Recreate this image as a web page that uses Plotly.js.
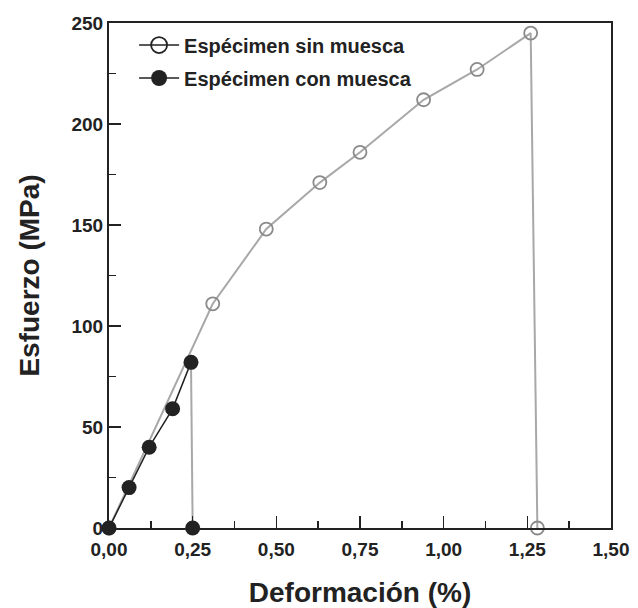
<!DOCTYPE html>
<html>
<head>
<meta charset="utf-8">
<script src="https://cdn.plot.ly/plotly-3.0.1.min.js"></script>
<style>
  html, body { margin: 0; padding: 0; background: #fff; }
  #chart { width: 638px; height: 608px; }
</style>
</head>
<body>
<div id="chart"></div>
<script>
// Tensile curves: strain (%) vs stress (MPa)
const sinMuescaX = [0, 0.31, 0.47, 0.63, 0.75, 0.94, 1.10, 1.26, 1.28];
const sinMuescaY = [0, 111, 148, 171, 186, 212, 227, 245, 0];

const conMuescaX = [0, 0.06, 0.12, 0.19, 0.245, 0.25];
const conMuescaY = [0, 20, 40, 59, 82, 0];

const nombreSin = 'Espécimen sin muesca';
const nombreCon = 'Espécimen con muesca';

const xTicks = [0, 0.25, 0.5, 0.75, 1.0, 1.25, 1.5];
const yTicks = [0, 50, 100, 150, 200, 250];

const gris = '#a8a8a8';
const negro = '#222222';
const fontBold = 'Liberation Sans, Arial, sans-serif';

const n = conMuescaX.length;

const traces = [
  // unnotched specimen
  {
    x: sinMuescaX, y: sinMuescaY, mode: 'lines+markers', showlegend: false,
    line: { color: gris, width: 2 },
    marker: { symbol: 'circle-open', size: 13, color: '#8a8a8a', line: { width: 1.8 } },
    cliponaxis: false
  },
  // notched specimen: final drop after fracture
  {
    x: conMuescaX.slice(n - 2), y: conMuescaY.slice(n - 2), mode: 'lines', showlegend: false,
    line: { color: gris, width: 2 }, cliponaxis: false
  },
  // notched specimen: loading curve
  {
    x: conMuescaX.slice(0, n - 1), y: conMuescaY.slice(0, n - 1), mode: 'lines', showlegend: false,
    line: { color: negro, width: 1.5 }, cliponaxis: false
  },
  {
    x: conMuescaX, y: conMuescaY, mode: 'markers', showlegend: false,
    marker: { symbol: 'circle', size: 15, color: negro },
    cliponaxis: false
  },
  // legend entries
  {
    x: [null], y: [null], name: nombreSin, mode: 'lines+markers', legendgroup: 'sin',
    line: { color: negro, width: 1.5 },
    marker: { symbol: 'circle-open', size: 16, color: negro, line: { width: 1.8 } }
  },
  {
    x: [null], y: [null], name: nombreCon, mode: 'lines+markers', legendgroup: 'con',
    line: { color: negro, width: 1.5 },
    marker: { symbol: 'circle', size: 16, color: negro }
  }
];

const layout = {
  width: 638, height: 608,
  margin: { l: 109, r: 27, t: 23, b: 80 },
  paper_bgcolor: '#fff', plot_bgcolor: '#fff',
  separators: ',.',
  showlegend: true,
  legend: {
    x: 0.05, y: 0.995, xanchor: 'left', yanchor: 'top',
    bgcolor: 'rgba(255,255,255,0)', borderwidth: 0,
    font: { family: fontBold, size: 20, color: negro, weight: 'bold' },
    tracegroupgap: 4, itemwidth: 40
  },
  xaxis: {
    range: [0, 1.5], tickvals: xTicks, tickformat: '.2f',
    ticks: 'inside', ticklen: 12, tickwidth: 1.5, tickcolor: negro,
    minor: { dtick: 0.125, ticks: 'inside', ticklen: 7, tickwidth: 1.5, tickcolor: negro },
    showline: true, linecolor: negro, linewidth: 2, mirror: true,
    showgrid: false, zeroline: false, ticklabelstandoff: 3,
    tickfont: { family: fontBold, size: 19, color: negro, weight: 'bold' },
    title: { text: 'Deformación (%)', standoff: 24,
             font: { family: fontBold, size: 28, color: negro, weight: 'bold' } }
  },
  yaxis: {
    range: [0, 250], tickvals: yTicks,
    ticks: 'inside', ticklen: 12, tickwidth: 1.5, tickcolor: negro,
    minor: { dtick: 25, ticks: 'inside', ticklen: 7, tickwidth: 1.5, tickcolor: negro },
    showline: true, linecolor: negro, linewidth: 2, mirror: true,
    showgrid: false, zeroline: false,
    tickfont: { family: fontBold, size: 19, color: negro, weight: 'bold' },
    title: { text: 'Esfuerzo (MPa)', standoff: 24,
             font: { family: fontBold, size: 28, color: negro, weight: 'bold' } }
  }
};

Plotly.newPlot('chart', traces, layout, { displayModeBar: false, staticPlot: true });
</script>
</body>
</html>
